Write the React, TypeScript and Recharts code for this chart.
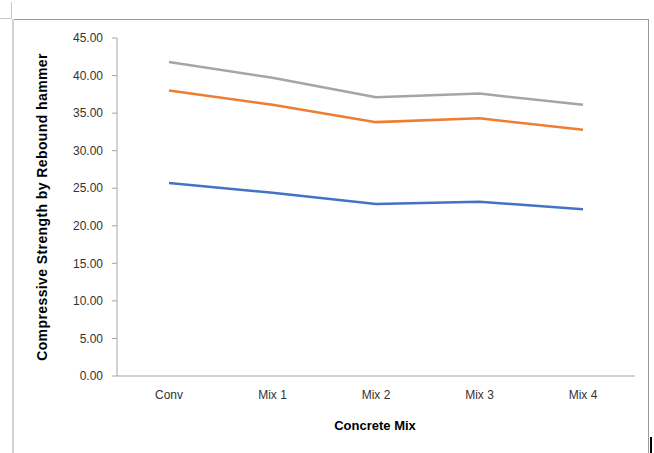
import { LineChart, Line, XAxis, YAxis, Label } from "recharts";

const categories = ["Conv", "Mix 1", "Mix 2", "Mix 3", "Mix 4"];
const seriesBlue = [25.7, 24.4, 22.9, 23.2, 22.2];
const seriesOrange = [38.0, 36.1, 33.8, 34.3, 32.8];
const seriesGray = [41.8, 39.7, 37.1, 37.6, 36.1];
const yTicks = [0, 5, 10, 15, 20, 25, 30, 35, 40, 45];

const chartData = categories.map((name, i) => ({
  name,
  blue: seriesBlue[i],
  orange: seriesOrange[i],
  gray: seriesGray[i],
}));

const FONT = "'Liberation Sans', Arial, sans-serif";

const App = () => {
  return (
    <div style={{ position: "fixed", left: 0, top: 0, width: 654, height: 453, background: "#fff", overflow: "hidden", fontFamily: FONT }}>
      <div style={{ position: "absolute", left: 0, top: 0 }}>
        <LineChart width={654} height={453} data={chartData} margin={{ top: 38, right: 19, left: 0, bottom: 47 }}>
          <XAxis
            dataKey="name"
            height={30}
            tickLine={false}
            tickSize={6}
            tickMargin={8}
            padding={{ left: 52, right: 52 }}
            axisLine={{ stroke: "#a6a6a6" }}
            tick={{ fill: "#333", fontSize: 12, fontFamily: FONT }}
          >
            <Label
              content={() => (
                <text x={375} y={430} textAnchor="middle" fontSize={13} fontWeight="bold" fill="#000" fontFamily={FONT}>
                  Concrete Mix
                </text>
              )}
            />
          </XAxis>
          <YAxis
            width={117}
            domain={[0, 45]}
            ticks={yTicks}
            interval={0}
            tickSize={5}
            tickMargin={9}
            tickFormatter={(v: number) => v.toFixed(2)}
            axisLine={{ stroke: "#a6a6a6" }}
            tickLine={{ stroke: "#a6a6a6" }}
            tick={{ fill: "#333", fontSize: 12, fontFamily: FONT }}
          >
            <Label
              content={() => (
                <text
                  x={0}
                  y={0}
                  transform="translate(47, 207) rotate(-90)"
                  textAnchor="middle"
                  fontSize={14}
                  fontWeight="bold"
                  letterSpacing={0.4}
                  fill="#000"
                  fontFamily={FONT}
                >
                  Compressive Strength by Rebound hammer
                </text>
              )}
            />
          </YAxis>
          <Line type="linear" dataKey="blue" stroke="#4472C4" strokeWidth={2.5} dot={false} isAnimationActive={false} />
          <Line type="linear" dataKey="orange" stroke="#ED7D31" strokeWidth={2.5} dot={false} isAnimationActive={false} />
          <Line type="linear" dataKey="gray" stroke="#A5A5A5" strokeWidth={2.5} dot={false} isAnimationActive={false} />
        </LineChart>
      </div>

      {/* page frame and marks */}
      <div style={{ position: "absolute", left: 11, top: 2, width: 1, height: 17, background: "#c8c8c8", pointerEvents: "none" }} />
      <div style={{ position: "absolute", left: 0, top: 18, width: 11, height: 1, background: "#c8c8c8", pointerEvents: "none" }} />
      <div style={{ position: "absolute", left: 12, top: 19, width: 637, height: 1, background: "#9a9a9a", pointerEvents: "none" }} />
      <div style={{ position: "absolute", left: 12, top: 19, width: 2, height: 434, background: "#d4d4d4", pointerEvents: "none" }} />
      <div style={{ position: "absolute", left: 648, top: 19, width: 1, height: 434, background: "#9a9a9a", pointerEvents: "none" }} />
      <div style={{ position: "absolute", left: 650, top: 437, width: 2, height: 16, background: "#000", pointerEvents: "none" }} />
    </div>
  );
};

export default App;
